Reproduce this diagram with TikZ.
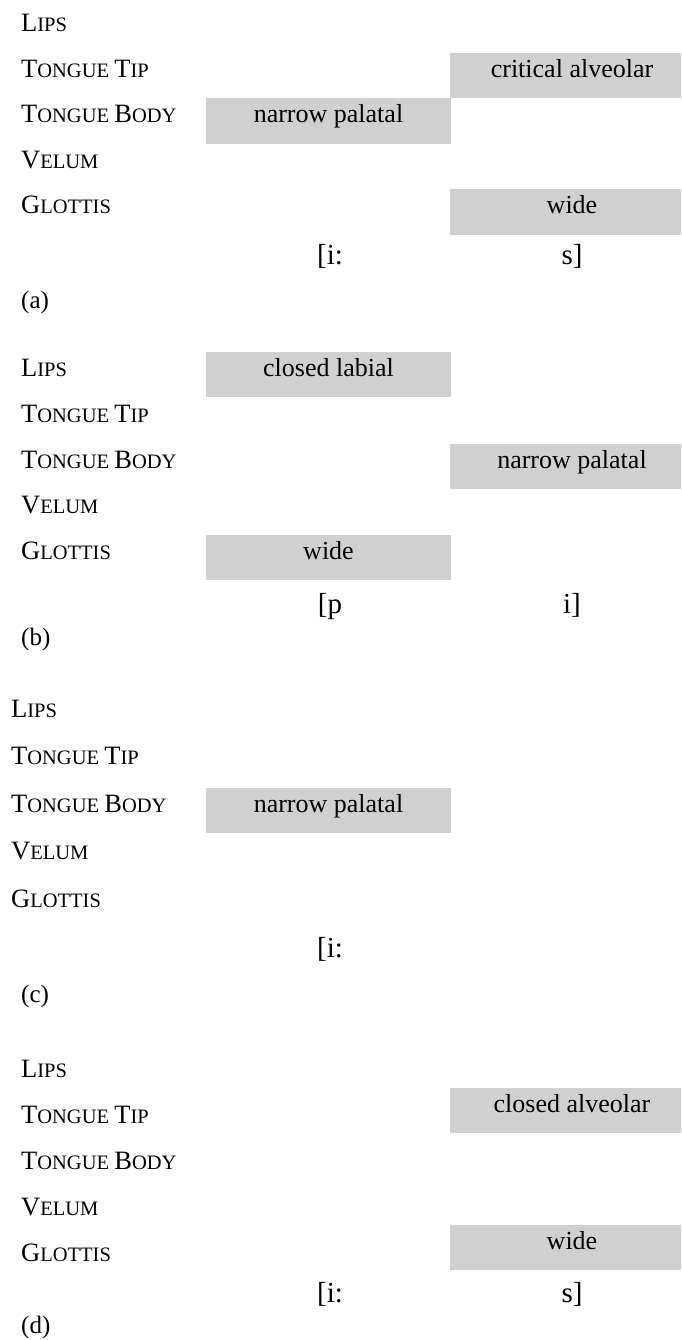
\documentclass[tikz,border=0pt]{standalone}
\usepackage{fontspec}
\setmainfont{Liberation Serif}
\definecolor{boxgray}{RGB}{208,208,208}
\newcommand{\fsc}[2]{{\fontsize{26.5}{30}\selectfont #1}{\fontsize{20.5}{24}\selectfont #2}}
\tikzset{
  rowlbl/.style={anchor=base west, inner sep=0pt, font=\fontsize{21}{24}\selectfont},
  gbox/.style={fill=boxgray, draw=none, inner sep=0pt, minimum height=45.5pt,
    text height=12pt, text depth=8.5pt, font=\fontsize{26}{30}\selectfont},
  lbox/.style={gbox, minimum width=245pt},
  rbox/.style={gbox, minimum width=244pt},
  seglbl/.style={anchor=base, inner sep=0pt, font=\fontsize{29}{32}\selectfont},
  panel/.style={anchor=base west, inner sep=0pt, font=\fontsize{25}{30}\selectfont},
}
\begin{document}
\begin{tikzpicture}[x=1pt,y=1pt]
\useasboundingbox (0,0) rectangle (681,-1340);
\clip (0,0) rectangle (681,-1340);
% ---------- (a)
\node[rowlbl] (a1) at (21,-32) {\fsc{L}{IPS}};
\node[rowlbl] (a2) at (21,-77.5) {\fsc{T}{ONGUE} \fsc{T}{IP}};
\node[rowlbl] (a3) at (21,-123) {\fsc{T}{ONGUE} \fsc{B}{ODY}};
\node[rowlbl] (a4) at (21,-168.5) {\fsc{V}{ELUM}};
\node[rowlbl] (a5) at (21,-214) {\fsc{G}{LOTTIS}};
\node[rbox] (abx1) at (572,-75.75) {critical alveolar};
\node[lbox] (abx2) at (328.5,-121.25) {narrow palatal};
\node[rbox] (abx3) at (572,-212.25) {wide};
\node[seglbl] (as1) at (330,-265) {[i:};
\node[seglbl] (as2) at (572,-265) {s]};
\node[panel] (ap) at (21,-308) {(a)};
% ---------- (b)
\node[rowlbl] (b1) at (21,-376) {\fsc{L}{IPS}};
\node[rowlbl] (b2) at (21,-422) {\fsc{T}{ONGUE} \fsc{T}{IP}};
\node[rowlbl] (b3) at (21,-468) {\fsc{T}{ONGUE} \fsc{B}{ODY}};
\node[rowlbl] (b4) at (21,-513.5) {\fsc{V}{ELUM}};
\node[rowlbl] (b5) at (21,-559) {\fsc{G}{LOTTIS}};
\node[lbox] (bbx1) at (328.5,-374.25) {closed labial};
\node[rbox] (bbx2) at (572,-466.25) {narrow palatal};
\node[lbox] (bbx3) at (328.5,-557.25) {wide};
\node[seglbl] (bs1) at (330,-613) {[p};
\node[seglbl] (bs2) at (572,-613) {i]};
\node[panel] (bp) at (21,-645) {(b)};
% ---------- (c)
\node[rowlbl] (c1) at (11,-717) {\fsc{L}{IPS}};
\node[rowlbl] (c2) at (11,-764.5) {\fsc{T}{ONGUE} \fsc{T}{IP}};
\node[rowlbl] (c3) at (11,-812) {\fsc{T}{ONGUE} \fsc{B}{ODY}};
\node[rowlbl] (c4) at (11,-859.5) {\fsc{V}{ELUM}};
\node[rowlbl] (c5) at (11,-907) {\fsc{G}{LOTTIS}};
\node[lbox] (cbx1) at (328.5,-810.25) {narrow palatal};
\node[seglbl] (cs1) at (330,-957) {[i:};
\node[panel] (cp) at (21,-1002) {(c)};
% ---------- (d)
\node[rowlbl] (d1) at (21,-1077) {\fsc{L}{IPS}};
\node[rowlbl] (d2) at (21,-1123) {\fsc{T}{ONGUE} \fsc{T}{IP}};
\node[rowlbl] (d3) at (21,-1169) {\fsc{T}{ONGUE} \fsc{B}{ODY}};
\node[rowlbl] (d4) at (21,-1215) {\fsc{V}{ELUM}};
\node[rowlbl] (d5) at (21,-1261) {\fsc{G}{LOTTIS}};
\node[rbox] (dbx1) at (572,-1110.25) {closed alveolar};
\node[rbox] (dbx2) at (572,-1247.25) {wide};
\node[seglbl] (ds1) at (330,-1302) {[i:};
\node[seglbl] (ds2) at (572,-1302) {s]};
\node[panel] (dp) at (21,-1333) {(d)};
\end{tikzpicture}
\end{document}
